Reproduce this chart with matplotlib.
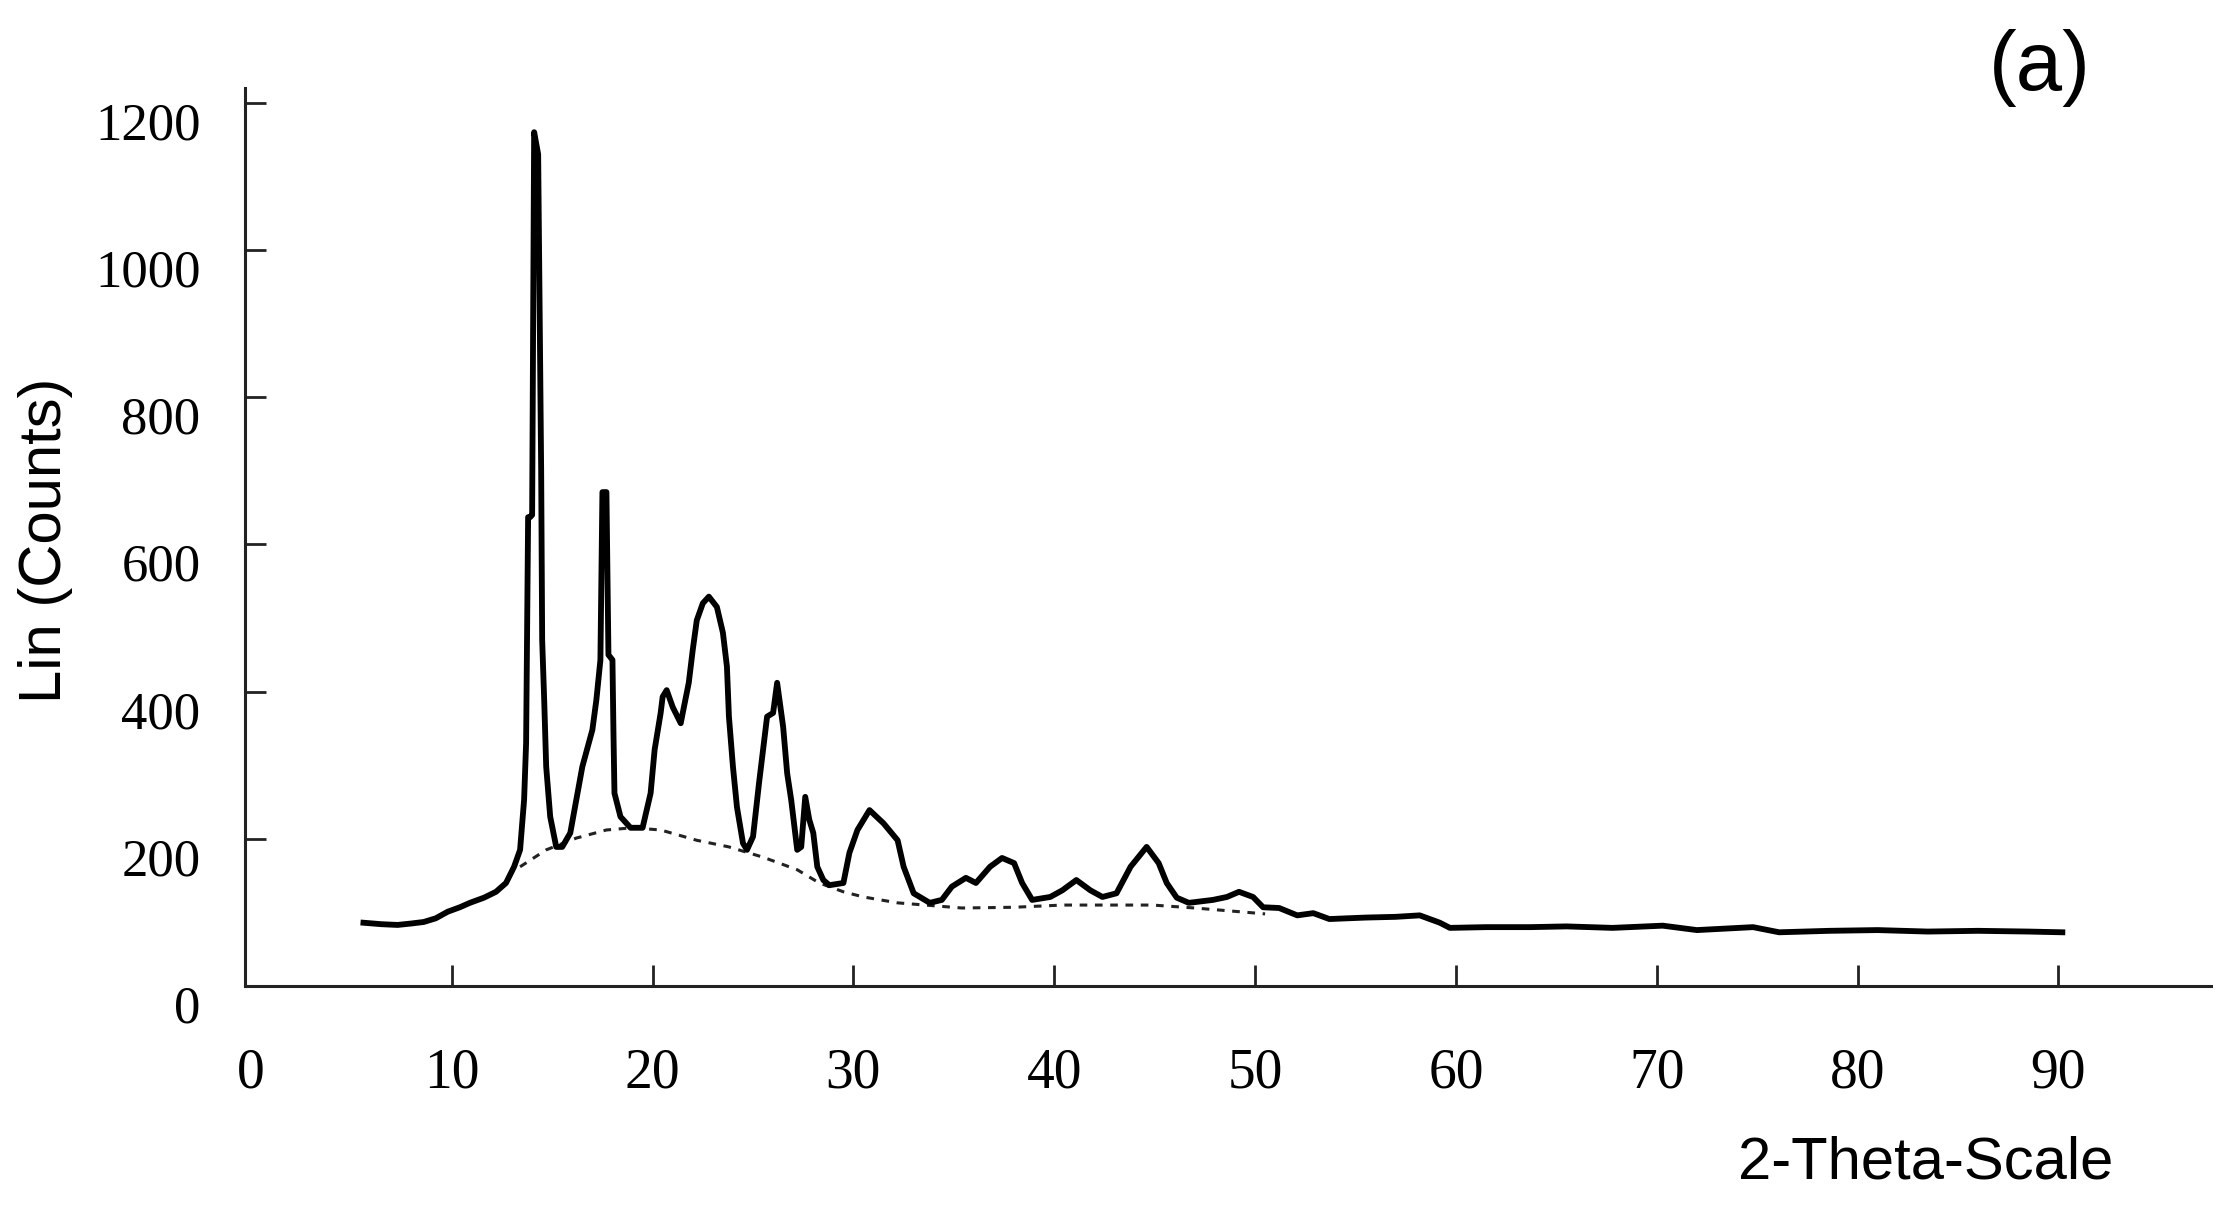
import numpy as np
import matplotlib
matplotlib.use("Agg")
import matplotlib.pyplot as plt
from matplotlib.transforms import ScaledTranslation

# XRD pattern: 2-theta (deg) and counts
two_theta = [5.6, 6.5, 7.3, 8.0, 8.6, 9.2, 9.8, 10.4, 10.9, 11.6, 12.2, 12.7, 13.1, 13.4,
             13.6, 13.7, 13.8, 13.9, 14.0, 14.1, 14.3, 14.45, 14.5, 14.6, 14.7, 14.9, 15.2,
             15.5, 15.9, 16.2, 16.5, 17.0, 17.2, 17.4, 17.5, 17.7, 17.8, 18.0, 18.05, 18.1,
             18.4, 18.9, 19.5, 19.9, 20.1, 20.4, 20.5, 20.7, 21.0, 21.4, 21.5, 21.8, 22.0,
             22.2, 22.5, 22.8, 23.2, 23.5, 23.7, 23.8, 24.0, 24.2, 24.5, 24.7, 25.0, 25.3,
             25.5, 25.7, 26.0, 26.2, 26.5, 26.7, 26.9, 27.2, 27.4, 27.6, 27.8, 28.0, 28.2,
             28.5, 28.8, 29.5, 29.8, 30.2, 30.8, 31.5, 32.2, 32.5, 33.0, 33.8, 34.4, 34.9,
             35.6, 36.1, 36.8, 37.4, 38.0, 38.4, 38.9, 39.8, 40.4, 41.1, 41.8, 42.4, 43.1,
             43.8, 44.6, 45.2, 45.6, 46.1, 46.7, 47.9, 48.6, 49.2, 49.9, 50.4, 51.2, 52.1,
             52.9, 53.7, 55.5, 57.0, 58.2, 59.2, 59.7, 61.5, 63.7, 65.5, 67.8, 70.3, 72.0,
             74.8, 76.1, 78.6, 81.0, 83.5, 86.0, 88.5, 90.2]
counts = [86, 84, 83, 85, 87, 92, 101, 107, 113, 120, 128, 140, 162, 185,
          253, 330, 637, 637, 640, 1160, 1130, 700, 470, 389, 298, 230, 189,
          189, 208, 253, 298, 348, 389, 443, 671, 671, 450, 443, 344, 262,
          230, 215, 215, 262, 321, 371, 393, 402, 379, 357, 371, 412, 457,
          497, 520, 529, 515, 480, 434, 366, 298, 243, 194, 185, 203, 276,
          321, 366, 371, 412, 352, 289, 253, 185, 189, 257, 226, 208, 162,
          144, 137, 140, 181, 212, 239, 221, 198, 162, 126, 113, 117, 135,
          147, 140, 162, 174, 167, 140, 117, 121, 130, 144, 130, 121, 126,
          162, 189, 167, 140, 120, 113, 117, 121, 128, 121, 107, 106, 96,
          99, 91, 93, 94, 96, 86, 79, 80, 80, 81, 79, 82, 76,
          80, 73, 75, 76, 74, 75, 74, 73]

# amorphous background (dashed)
bg_theta = [13.4, 14.7, 16.2, 17.7, 19.0, 20.4, 22.2, 23.8, 25.5, 27.2, 28.3, 29.5,
            30.5, 32.2, 35.4, 38.0, 40.4, 44.9, 47.0, 49.2, 50.5]
bg_counts = [162, 185, 201, 212, 215, 212, 198, 189, 175, 158, 140, 128,
             121, 113, 106, 107, 110, 110, 106, 101, 98]

xticks = [0, 10, 20, 30, 40, 50, 60, 70, 80, 90]
yticks = [0, 200, 400, 600, 800, 1000, 1200]

tick_font = ["Liberation Serif"]

fig = plt.figure(figsize=(22.29, 12.06), dpi=100)
ax = fig.add_axes([0.1099, 0.1824, 0.8820, 0.7446])

ax.plot(bg_theta, bg_counts, color="#222222", lw=2.2, ls=(0, (2.5, 2.5)))
ax.plot(two_theta, counts, color="black", lw=4.2, solid_joinstyle="round")

ax.set_xlim(-0.3, 97.6)
ax.set_ylim(0, 1220)
ax.set_xticks(xticks)
ax.set_yticks(yticks)

for s in ["top", "right"]:
    ax.spines[s].set_visible(False)
for s in ["left", "bottom"]:
    ax.spines[s].set_linewidth(2.2)
    ax.spines[s].set_color("#222222")

ax.tick_params(axis="both", direction="in", length=15, width=2, color="#222222")
ax.tick_params(axis="x", pad=44)
ax.tick_params(axis="y", pad=32)
ax.xaxis.get_major_ticks()[0].tick1line.set_visible(False)

for lab in ax.get_xticklabels():
    lab.set_family(tick_font); lab.set_fontsize(40)
off = ScaledTranslation(0, -13/72, fig.dpi_scale_trans)
for lab in ax.get_yticklabels():
    lab.set_family(tick_font); lab.set_fontsize(38)
    lab.set_transform(lab.get_transform() + off)

fig.text(0.0202, 0.552, "Lin (Counts)", rotation=90, ha="center", va="center",
         family="Liberation Sans", fontsize=43)
fig.text(0.864, 0.0357, "2-Theta-Scale", ha="center", va="center",
         family="Liberation Sans", fontsize=43)
fig.text(0.915, 0.944, "(a)", ha="center", va="center",
         family="Liberation Sans", fontsize=60)

fig.savefig("out.png", dpi=100)
